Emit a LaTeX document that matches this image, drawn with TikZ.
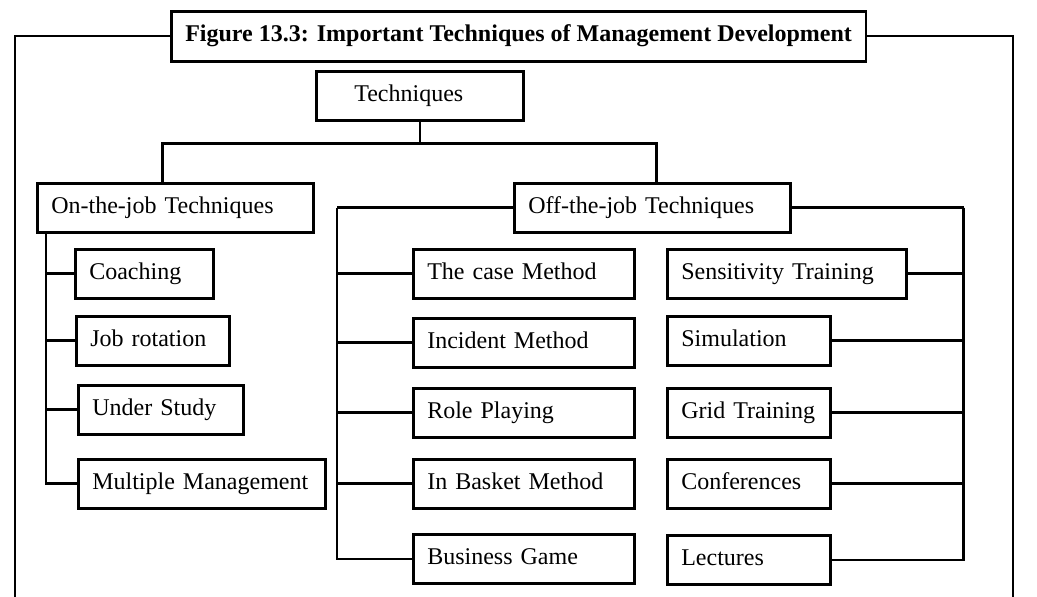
\documentclass[tikz,border=0pt]{standalone}
\usepackage{fontspec}
\setmainfont{Liberation Serif}
\usetikzlibrary{positioning}

\begin{document}
\begin{tikzpicture}[x=0.5pt,y=-0.5pt,font=\fontsize{12}{14}\selectfont]
        \tikzset{
            mdbox/.style={
                draw=black,
                fill=white,
                line width=1.3pt,
                anchor=north west,
                inner xsep=7pt,
                minimum height=24.5pt,
                align=left,
                execute at begin node={\rule[-3.2pt]{0pt}{12pt}}
            },
            mdtitle/.style={
                mdbox,
                minimum width=346pt,
                minimum height=25pt,
                align=center,
                font=\fontsize{12}{14}\selectfont\bfseries
            },
            mdlink/.style={
                draw=black,
                line width=1.3pt
            },
            mdframe/.style={
                draw=black,
                line width=1pt
            }
        }
        \useasboundingbox (0,0) rectangle (1037,597);

        \node[mdtitle] (title) at (170,10)
            {Figure 13.3: Important Techniques of Management Development};
        \node[mdbox, inner xsep=19pt, text width=65.5pt] (tech) at (315,70)
            {Techniques};

        \node[mdbox, text width=124pt] (onjob) at (36,182)
            {On-the-job Techniques};
        \node[mdbox, text width=124pt] (offjob) at (513,182)
            {Off-the-job Techniques};

        \node[mdbox, text width=55pt] (coach) at (74,248) {Coaching};
        \node[mdbox, text width=62.5pt] (jobrot) at (75,315) {Job rotation};
        \node[mdbox, text width=68.5pt] (under) at (77,384) {Under Study};
        \node[mdbox, text width=109.5pt] (multi) at (77,458)
            {Multiple~Management};

        \node[mdbox, text width=96.5pt] (casem) at (412,248) {The case Method};
        \node[mdbox, text width=96.5pt] (incid) at (412,317) {Incident Method};
        \node[mdbox, text width=96.5pt] (role) at (412,387) {Role Playing};
        \node[mdbox, text width=96.5pt] (basket) at (412,458) {In Basket Method};
        \node[mdbox, text width=96.5pt] (busgame) at (412,533) {Business Game};

        \node[mdbox, text width=105.5pt] (sens) at (666,248)
            {Sensitivity Training};
        \node[mdbox, text width=67.5pt] (simu) at (666,315) {Simulation};
        \node[mdbox, text width=67.5pt] (grid) at (666,387) {Grid~Training};
        \node[mdbox, text width=67.5pt] (conf) at (666,458) {Conferences};
        \node[mdbox, text width=67.5pt] (lect) at (666,534) {Lectures};

        % outer frame hanging from the caption
        \draw[mdframe] (title.west) -| (15,597);
        \draw[mdframe] (title.east) -| (1013,597);

        \draw[mdlink] (tech.south) -- ++(0,22) coordinate (hub);
        \draw[mdlink] ([xshift=-6.5pt]onjob.north) |- (hub)
            -| ([xshift=2pt]offjob.north);

        \draw[mdlink] ([xshift=5pt]onjob.south west) |- (coach.west);
        \draw[mdlink] ([xshift=5pt]onjob.south west) |- (jobrot.west);
        \draw[mdlink] ([xshift=5pt]onjob.south west) |- (under.west);
        \draw[mdlink] ([xshift=5pt]onjob.south west) |- (multi.west);

        \draw[mdlink] (offjob.west) -- ++(-176,0) coordinate (lspine);
        \draw[mdlink] (lspine) |- (casem.west);
        \draw[mdlink] (lspine) |- (incid.west);
        \draw[mdlink] (lspine) |- (role.west);
        \draw[mdlink] (lspine) |- (basket.west);
        \draw[mdlink] (lspine) |- (busgame.west);

        \draw[mdlink] (offjob.east) -- ++(172,0) coordinate (rspine);
        \draw[mdlink] (rspine) |- (sens.east);
        \draw[mdlink] (rspine) |- (simu.east);
        \draw[mdlink] (rspine) |- (grid.east);
        \draw[mdlink] (rspine) |- (conf.east);
        \draw[mdlink] (rspine) |- (lect.east);
    \end{tikzpicture}
\end{document}
